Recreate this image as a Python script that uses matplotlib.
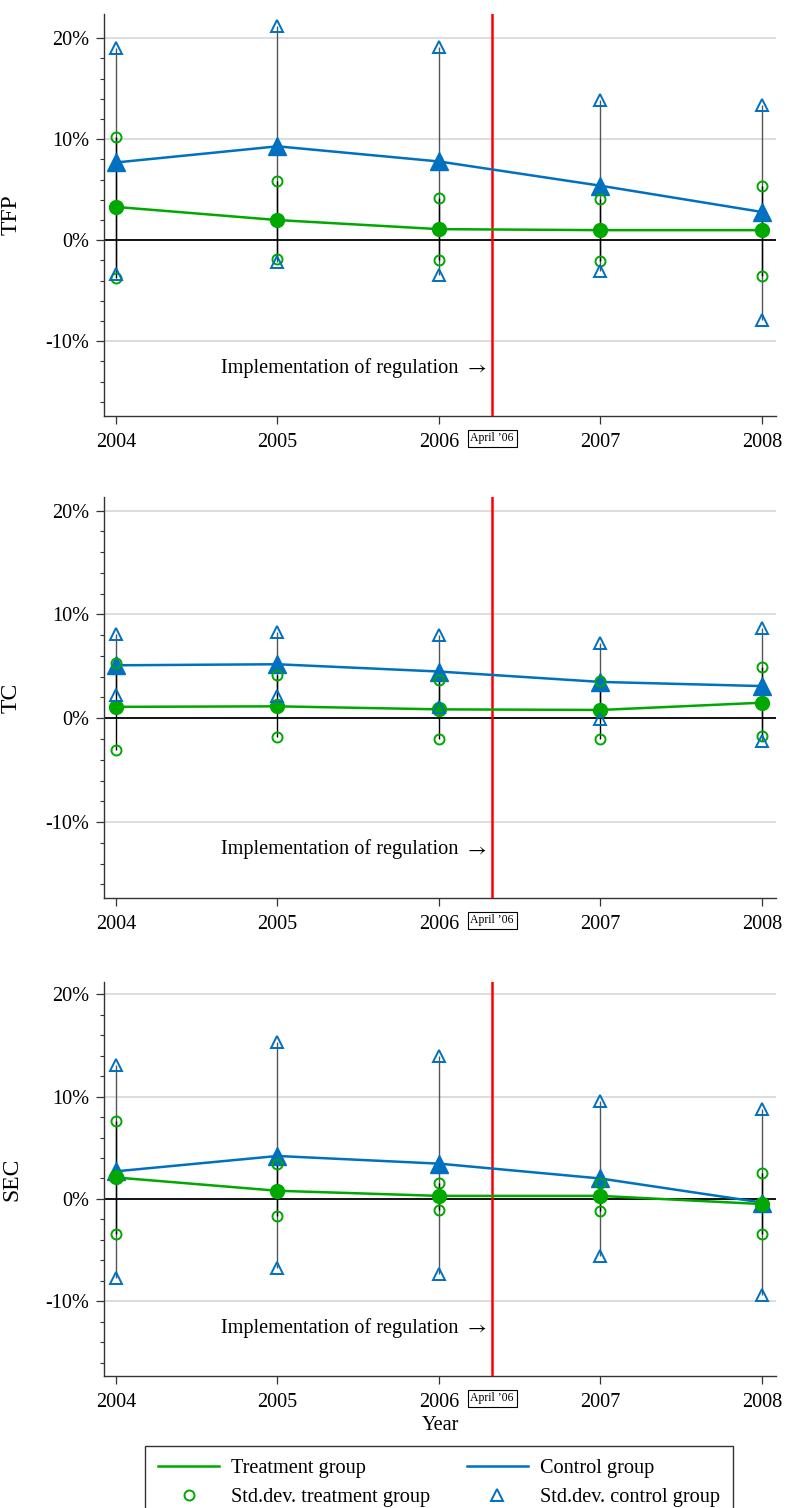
import matplotlib
matplotlib.use("Agg")
import matplotlib.pyplot as plt
from matplotlib.lines import Line2D
import matplotlib.transforms as mtransforms

# ---------------- data ----------------
years = [2004, 2005, 2006, 2007, 2008]
year_labels = ["2004", "2005", "2006", "2007", "2008"]
panel_names = ["TFP", "TC", "SEC"]

# TFP (%)
tfp_treat = [3.3, 2.0, 1.1, 1.0, 1.0]
tfp_treat_hi = [10.2, 5.9, 4.2, 4.1, 5.4]
tfp_treat_lo = [-3.7, -1.9, -2.0, -2.1, -3.5]
tfp_ctrl = [7.7, 9.3, 7.8, 5.4, 2.8]
tfp_ctrl_hi = [19.0, 21.2, 19.1, 13.9, 13.4]
tfp_ctrl_lo = [-3.3, -2.2, -3.4, -3.0, -7.9]

# TC (%)
tc_treat = [1.1, 1.15, 0.86, 0.8, 1.5]
tc_treat_hi = [5.3, 4.2, 3.7, 3.55, 4.9]
tc_treat_lo = [-3.1, -1.85, -2.0, -1.95, -1.75]
tc_ctrl = [5.1, 5.2, 4.5, 3.5, 3.1]
tc_ctrl_hi = [8.1, 8.3, 8.0, 7.2, 8.7]
tc_ctrl_lo = [2.2, 2.1, 1.1, -0.1, -2.2]

# SEC (%)
sec_treat = [2.1, 0.8, 0.3, 0.3, -0.5]
sec_treat_hi = [7.65, 3.4, 1.6, 1.6, 2.5]
sec_treat_lo = [-3.4, -1.7, -1.05, -1.15, -3.4]
sec_ctrl = [2.7, 4.2, 3.45, 2.0, -0.35]
sec_ctrl_hi = [13.1, 15.3, 14.0, 9.6, 8.8]
sec_ctrl_lo = [-7.7, -6.7, -7.3, -5.6, -9.4]

y_ticks = [-10, 0, 10, 20]
y_tick_labels = ["-10%", "0%", "10%", "20%"]
regulation_date = 2006.33
regulation_text = "Implementation of regulation"
regulation_box = "April \u201906"
legend_labels = ["Treatment group", "Std.dev. treatment group",
                 "Control group", "Std.dev. control group"]

panels = [
    (tfp_treat, tfp_treat_hi, tfp_treat_lo, tfp_ctrl, tfp_ctrl_hi, tfp_ctrl_lo),
    (tc_treat, tc_treat_hi, tc_treat_lo, tc_ctrl, tc_ctrl_hi, tc_ctrl_lo),
    (sec_treat, sec_treat_hi, sec_treat_lo, sec_ctrl, sec_ctrl_hi, sec_ctrl_lo),
]

# ---------------- style ----------------
plt.rcParams['font.family'] = ['Liberation Serif', 'DejaVu Serif']
plt.rcParams['mathtext.fontset'] = 'stix'
GREEN = '#00A800'
BLUE = '#0070C0'
FS = 14.6

W, H = 788, 1508
fig = plt.figure(figsize=(W / 100, H / 100), dpi=100)

# axes boxes in pixels (left, top, right, bottom)
boxes = [(104, 14, 776, 416), (104, 497, 776, 898), (104, 982, 776, 1376)]
ylims = [(-17.4, 22.4), (-17.3, 21.3), (-17.3, 21.2)]

for i, (name, data, box, yl) in enumerate(zip(panel_names, panels, boxes, ylims)):
    l, t, r, b = box
    ax = fig.add_axes([l / W, 1 - b / H, (r - l) / W, (b - t) / H])
    tr, tr_hi, tr_lo, ct, ct_hi, ct_lo = data

    ax.set_xlim(2003.926, 2008.087)
    ax.set_ylim(*yl)

    # grid
    for yv in y_ticks:
        if yv == 0:
            ax.axhline(0, color='black', lw=1.3, zorder=2)
        else:
            ax.axhline(yv, color='#dddddd', lw=1.4, zorder=0)

    # range lines
    ax.vlines(years, ct_lo, ct_hi, color='#555555', lw=1.0, zorder=1)
    ax.vlines(years, tr_lo, tr_hi, color='black', lw=1.0, zorder=1.5)

    # regulation line
    ax.axvline(regulation_date, color='#ff0000', lw=1.8, zorder=3)

    # series
    ax.plot(years, ct, color=BLUE, lw=1.8, marker='^', ms=12.5, mfc=BLUE, mec=BLUE, zorder=4)
    ax.plot(years, tr, color=GREEN, lw=1.8, marker='o', ms=10, mfc=GREEN, mec=GREEN, zorder=5)
    ax.plot(years, tr_hi, ls='none', marker='o', ms=7.2, mfc='none', mec=GREEN, mew=1.4, zorder=6)
    ax.plot(years, tr_lo, ls='none', marker='o', ms=7.2, mfc='none', mec=GREEN, mew=1.4, zorder=6)
    ax.plot(years, ct_hi, ls='none', marker='^', ms=9, mfc='none', mec=BLUE, mew=1.4, zorder=6)
    ax.plot(years, ct_lo, ls='none', marker='^', ms=9, mfc='none', mec=BLUE, mew=1.4, zorder=6)

    # annotation
    ax.annotate(regulation_text, xy=(regulation_date, -12.4), xytext=(-24.5, -1.5),
                textcoords='offset points', ha='right', va='center', fontsize=FS, zorder=7)
    ax.annotate(r'$\rightarrow$', xy=(regulation_date, -12.4), xytext=(-3.6, -1.8),
                textcoords='offset points', ha='right', va='center', fontsize=FS, zorder=7)
    trans = mtransforms.blended_transform_factory(ax.transData, ax.transAxes)
    ax.text(regulation_date, -22.5 / (b - t), regulation_box, transform=trans,
            ha='center', va='center', fontsize=8.5, clip_on=False,
            bbox=dict(boxstyle='square,pad=0.25', fc='white', ec='black', lw=0.8))

    # axes styling
    for s in ['top', 'right']:
        ax.spines[s].set_visible(False)
    for s in ['left', 'bottom']:
        ax.spines[s].set_color('#333333')
        ax.spines[s].set_linewidth(1.0)
    ax.set_yticks(y_ticks)
    ax.set_yticklabels(y_tick_labels)
    ax.set_yticks([v for v in range(-16, 22, 2) if v % 10 != 0], minor=True)
    ax.set_xticks(years)
    ax.set_xticklabels(year_labels)
    ax.tick_params(axis='x', which='major', direction='out', length=5.5, width=0.9,
                   labelsize=FS, pad=6.5, color='#333333')
    ax.tick_params(axis='y', which='major', direction='out', length=5.5, width=0.9,
                   labelsize=FS, pad=5, color='#333333')
    ax.tick_params(axis='y', which='minor', direction='out', length=3, width=0.8, color='#333333')
    ax.set_ylabel(name, fontsize=17)
    ax.yaxis.set_label_coords(-0.122, 0.5)
    if i == 2:
        ax.set_xlabel("Year", fontsize=FS, va='top')
        ax.xaxis.set_label_coords(0.5, -40 / (b - t))

handles = [
    Line2D([], [], color=GREEN, lw=1.8),
    Line2D([], [], ls='none', marker='o', ms=7.2, mfc='none', mec=GREEN, mew=1.4),
    Line2D([], [], color=BLUE, lw=1.8),
    Line2D([], [], ls='none', marker='^', ms=9, mfc='none', mec=BLUE, mew=1.4),
]
leg = fig.legend(handles, legend_labels, ncol=2, loc='upper center',
                 bbox_to_anchor=(439 / W, 1 - 1446 / H), fontsize=FS,
                 frameon=True, fancybox=False, edgecolor='black', handlelength=3.0,
                 columnspacing=1.8, borderpad=0.65, labelspacing=0.45, handletextpad=0.6,
                 borderaxespad=0)
leg.get_frame().set_linewidth(1.0)

fig.savefig("out.png", dpi=100)
